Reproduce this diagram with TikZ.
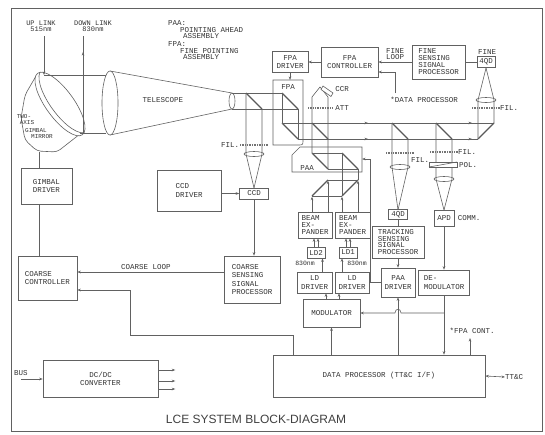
\documentclass[tikz,border=0pt]{standalone}
\usepackage{fontspec}
\setmonofont{Liberation Mono}
\setsansfont{Liberation Sans}
\usetikzlibrary{arrows.meta}
\begin{document}
\begin{tikzpicture}[x=1pt,y=-1pt,
    ink/.style={draw=black!62, line width=0.6pt},
    mir/.style={draw=black!65, line width=1.1pt},
    fil/.style={draw=black!55, line width=1.5pt, dash pattern=on 1pt off 0.7pt},
    box/.style={ink, rectangle, inner sep=0pt, text=black!80, align=center, font=\ttfamily\fontsize{7.5}{8.5}\selectfont},
    lbl/.style={inner sep=0pt, text=black!80, font=\ttfamily\fontsize{7.5}{8}\selectfont},
    tiny/.style={inner sep=0pt, text=black!80, font=\ttfamily\fontsize{6}{6}\selectfont},
    >={Stealth[length=3.5pt,width=2.6pt]}]
\useasboundingbox (0,0) rectangle (545,434);
\draw[ink, line width=0.8pt] (11,8) rectangle (542,431);

\node[lbl, align=center, font=\ttfamily\fontsize{7}{6}\selectfont] (uplink) at (41,26) {UP LINK\\515nm};
\node[lbl, align=center, font=\ttfamily\fontsize{7}{6}\selectfont] (downlink) at (93,26) {DOWN LINK\\830nm};
\node[lbl, anchor=west] (legpaa) at (168,23) {PAA:};
\node[lbl, anchor=west] (legpaa1) at (180,30) {POINTING AHEAD};
\node[lbl, anchor=west] (legpaa2) at (183,36) {ASSEMBLY};
\node[lbl, anchor=west] (legfpa) at (168,44) {FPA:};
\node[lbl, anchor=west] (legfpa1) at (180,51) {FINE POINTING};
\node[lbl, anchor=west] (legfpa2) at (183,57) {ASSEMBLY};

\draw[ink, fill=white, rounded corners=4pt] (36,76) -- (25,95) -- (21,118) -- (25,140) -- (37,151) -- (57,152) -- (80,134);
\draw[ink, fill=white, rotate around={-54:(60,104)}] (60,104) ellipse [x radius=38, y radius=14];
\begin{scope}
\clip[rotate around={-54:(60,104)}] (60,104) ellipse [x radius=38, y radius=14];
\draw[ink, rotate around={-54:(64,101)}] (64,101) ellipse [x radius=38, y radius=14];
\end{scope}
\node[tiny] (mir1) at (24,117) {TWO-};
\node[tiny] (mir2) at (27,122.5) {AXIS};
\node[tiny] (mir3) at (36,131) {GIMBAL};
\node[tiny] (mir4) at (42,136.5) {MIRROR};
\coordinate (mirtop) at (44,75);
\coordinate (mirbot) at (39,152);
\draw[ink,->] (44,36) -- (mirtop);
\draw[ink] (mirtop) -- (106,75);
\draw[ink] (80,133) -- (106,133);
\draw[ink] (83,133) -- (83,36);
\draw[ink,->] (83,62) -- (83,52);

\draw[ink] (110,71) -- (232,93);
\draw[ink] (110,135) -- (232,109);
\draw[ink, fill=white] (110,103) ellipse [x radius=8, y radius=32];
\draw[ink] (232,101) ellipse [x radius=3, y radius=8];
\node[lbl] (telescope) at (163,100) {TELESCOPE};
\draw[ink] (232,93) -- (282,93);
\draw[ink] (232,109) -- (298,109);

\draw[mir] (246,93) -- (262,109);
\draw[ink] (246,93) -- (246,154) -- (254,188);
\draw[ink] (262,109) -- (262,154) -- (254,188);
\draw[fil] (240,145) -- (268,145);
\node[lbl] (filccd) at (230,145) {FIL.};
\draw[ink] (254,154) ellipse [x radius=10, y radius=2.5];

\draw[ink] (273,80) -- (303,80) -- (303,140) .. controls (303,145) .. (298,145) -- (273,145) -- cycle;
\node[lbl] (fpalbl) at (288,87) {FPA};
\draw[mir] (282,93) -- (298,109);
\draw[mir] (282,123) -- (298,139);
\draw[ink] (282,93) -- (282,123);
\draw[ink] (298,109) -- (298,139);
\draw[ink] (282,123) -- (494,123);
\draw[ink] (298,139) -- (478,139);
\foreach \bx in {362,466} {
  \draw[ink,->] (\bx,123) -- ++(6,0);
  \draw[ink,->] (\bx,139) -- ++(6,0);
}

\draw[mir] (312,123) -- (328,139);
\draw[ink] (312,153) -- (312,97) -- (320,87) -- (328,97) -- (328,169);
\draw[ink, fill=white] (323,86) -- (333,93) -- (331,96.5) -- (321,89.5) -- cycle;
\node[lbl] (ccr) at (342,89) {CCR};
\draw[fil] (308,108) -- (332,108);
\node[lbl] (att) at (342,108) {ATT};

\draw[ink] (300,147) -- (362,147) -- (362,172) -- (292,172) -- (292,155) -- cycle;
\node[lbl] (paalbl) at (307,168) {PAA};
\draw[mir] (312,153) -- (328,169);
\draw[mir] (342,153) -- (358,169);
\draw[ink] (312,153) -- (342,153);
\draw[ink] (328,169) -- (358,169);
\draw[ink] (342,153) -- (342,196);
\draw[ink] (358,169) -- (358,180);
\draw[mir] (312,196) -- (328,180);
\draw[mir] (342,196) -- (358,180);
\draw[ink] (312,196) -- (342,196);
\draw[ink] (328,180) -- (358,180);

\draw[mir] (392,123) -- (408,139);
\draw[ink] (392,123) -- (392,167) -- (398,210);
\draw[ink] (408,139) -- (408,167) -- (398,210);
\draw[fil] (386,153) -- (414,153);
\node[lbl] (filtrk) at (420,160) {FIL.};
\draw[ink] (400,167) ellipse [x radius=10, y radius=2.5];

\draw[mir] (436,123) -- (452,139);
\draw[ink] (436,123) -- (436,179) -- (444,210);
\draw[ink] (452,139) -- (452,179) -- (444,210);
\draw[fil] (430,152) -- (458,152);
\node[lbl] (filapd) at (467,152) {FIL.};
\draw[ink, fill=white] (429,162) rectangle (457,167);
\draw[ink] (429,167) -- (457,162);
\node[lbl] (pol) at (468,165) {POL.};
\draw[ink] (444,179) ellipse [x radius=10, y radius=2.5];

\draw[mir] (478,139) -- (494,123);
\draw[ink] (478,139) -- (478,100) -- (486,68);
\draw[ink] (494,123) -- (494,100) -- (486,68);
\draw[fil] (472,108) -- (500,108);
\node[lbl] (filfine) at (509,108) {FIL.};
\draw[ink] (486,100) ellipse [x radius=10, y radius=2.5];

\node[box, minimum width=51, minimum height=36] (gimbaldrv) at (46.5,186) {GIMBAL\\DRIVER};
\node[box, align=left, minimum width=59, minimum height=44] (coarsectl) at (47.5,278) {COARSE\\CONTROLLER};
\node[box, align=left, minimum width=64, minimum height=41] (ccddrv) at (189,190.5) {CCD\\DRIVER};
\node[box, minimum width=29, minimum height=11] (ccd) at (254,193.5) {CCD};
\node[box, align=left, minimum width=56, minimum height=47] (coarsessp) at (252,279.5) {COARSE\\SENSING\\SIGNAL\\PROCESSOR};
\node[box, minimum width=115, minimum height=37] (dcdc) at (100.5,379) {DC/DC\\CONVERTER};
\node[box, minimum width=212, minimum height=42] (dp) at (379,376) {DATA PROCESSOR (TT\&C I/F)};
\node[box, minimum width=36, minimum height=21] (fpadrv) at (290,62) {FPA\\DRIVER};
\node[box, minimum width=57, minimum height=30] (fpactl) at (349.5,62) {FPA\\CONTROLLER};
\node[box, align=left, minimum width=53, minimum height=34, font=\ttfamily\fontsize{7.5}{7}\selectfont] (finessp) at (438.5,62) {FINE\\SENSING\\SIGNAL\\PROCESSOR};
\node[box, minimum width=18, minimum height=11] (fineqd) at (486,62) {4QD};
\node[lbl] (finelbl) at (487,52) {FINE};
\node[lbl, align=left, font=\ttfamily\fontsize{7.5}{6.5}\selectfont] (fineloop) at (395,54) {FINE\\LOOP};
\node[lbl] (dpnote) at (424,100) {*DATA PROCESSOR};

\node[box, align=left, minimum width=34, minimum height=26, font=\ttfamily\fontsize{7.5}{7}\selectfont] (beL) at (315,225) {BEAM\\EX-\\PANDER};
\node[box, align=left, minimum width=35, minimum height=26, font=\ttfamily\fontsize{7.5}{7}\selectfont] (beR) at (352.5,225) {BEAM\\EX-\\PANDER};
\node[box, minimum width=18, minimum height=11] (ldtwo) at (316,252.5) {LD2};
\node[box, minimum width=18, minimum height=11] (ldone) at (348,252.5) {LD1};
\node[box, minimum width=35, minimum height=21] (lddrvL) at (314.5,282.5) {LD\\DRIVER};
\node[box, minimum width=34, minimum height=21] (lddrvR) at (352,282.5) {LD\\DRIVER};
\node[box, minimum width=57, minimum height=28] (mod) at (331.5,313) {MODULATOR};
\node[lbl, font=\ttfamily\fontsize{6.5}{7}\selectfont] (nmtwo) at (305,263) {830nm};
\node[lbl, font=\ttfamily\fontsize{6.5}{7}\selectfont] (nmone) at (357,263) {830nm};
\node[box, minimum width=19, minimum height=10] (trkqd) at (398,214.5) {4QD};
\node[box, align=left, minimum width=52, minimum height=32, font=\ttfamily\fontsize{7.5}{6.5}\selectfont] (trkssp) at (398,242) {TRACKING\\SENSING\\SIGNAL\\PROCESSOR};
\node[box, minimum width=34, minimum height=29] (paadrv) at (398,282.5) {PAA\\DRIVER};
\node[box, minimum width=20, minimum height=16] (apd) at (444,218) {APD};
\node[lbl] (comm) at (469,218) {COMM.};
\node[box, align=left, minimum width=51, minimum height=25] (demod) at (444,282.5) {DE-\\MODULATOR};

\draw[ink] (mirbot) -- (mirbot |- gimbaldrv.north);
\draw[ink] (mirbot |- gimbaldrv.south) -- (mirbot |- coarsectl.north);
\draw[ink,->] (ccddrv.east |- ccd.west) -- (ccd.west);
\draw[ink,->] (ccd.south) -- (ccd.south |- coarsessp.north);
\draw[ink,->] ([yshift=7.5pt]coarsessp.west) -- ([yshift=7.5pt]coarsessp.west -| coarsectl.east);
\node[lbl] (coarseloop) at (146,267) {COARSE LOOP};
\coordinate (retx) at (293,335);
\draw[ink,->] (retx |- dp.north) -- (retx) -| (130,290) -- ([yshift=-12pt]coarsectl.east);
\coordinate (bus) at (21,379);
\node[lbl] (buslbl) at (21,373) {BUS};
\draw[ink,->] (bus) -- (dcdc.west);
\foreach \dy in {9,-2,-10}
  \draw[ink,->] ([yshift=\dy pt]dcdc.east) -- ++(17,0);

\draw[ink,->] (fpactl.west) -- (fpadrv.east);
\coordinate (fpatop) at (290,80);
\draw[ink,->] (fpadrv.south) -- (fpatop);
\draw[ink,->] (finessp.west) -- (fpactl.east);
\coordinate (dpnoteup) at (395,93);
\draw[ink,->] (dpnoteup) |- ([yshift=-10pt]fpactl.east);
\draw[ink] (finessp.east) -- (fineqd.west);

\draw[ink,->] ([xshift=-3pt]beL.north) -- ++(0,-15);
\draw[ink,->] ([xshift=13pt]beL.north) -- ++(0,-31);
\draw[ink,->] ([xshift=-10.5pt]beR.north) -- ++(0,-15);
\draw[ink,->] ([xshift=5.5pt]beR.north) -- ++(0,-31);
\foreach \dx in {-2,2} {
  \draw[ink,->] ([xshift=\dx pt]ldtwo.north) -- ([xshift=\dx pt]ldtwo.north |- beL.south);
  \draw[ink,->] ([xshift=\dx pt]ldone.north) -- ([xshift=\dx pt]ldone.north |- beR.south);
}
\draw[ink,->] ([xshift=8pt]lddrvL.north) -- ([xshift=8pt]lddrvL.north |- ldtwo.south);
\draw[ink,->] ([xshift=-10pt]lddrvR.north) -- ([xshift=-10pt]lddrvR.north |- ldone.south);
\draw[ink,->] ([xshift=-5.5pt]mod.north) -- ([xshift=-5.5pt]mod.north |- lddrvL.south);
\draw[ink,->] ([xshift=7.5pt]mod.north) -- ([xshift=7.5pt]mod.north |- lddrvR.south);
\draw[ink,->] (mod.south |- dp.north) -- (mod.south);

\draw[ink] (trkqd.south) -- (trkssp.north);
\draw[ink,->] (trkssp.south) -- (paadrv.north);
\coordinate (paain) at (362,159);
\draw[ink,->] (paadrv.west) -- ++(-10,0) |- (paain);
\draw[ink,->] (paadrv.south |- dp.north) -- (paadrv.south);
\draw[ink,->] (apd.south) -- (demod.north);
\draw[ink,->] (demod.south) -- (demod.south |- dp.north);
\coordinate (modbr) at (demod.south |- mod.east);
\draw[ink,->] (modbr) -- (401,313) .. controls (401,308) and (395,308) .. (395,313) -- (mod.east);
\coordinate (fpacont) at (470,338);
\draw[ink,->] (fpacont |- dp.north) -- (fpacont);
\node[lbl] (fpacontlbl) at (472,331) {*FPA CONT.};
\coordinate (ttc) at (505,377);
\draw[ink,<->] (dp.east) -- (ttc);
\node[lbl, anchor=west] (ttclbl) at (ttc) {TT\&C};

\node[inner sep=0pt, text=black!75, font=\sffamily\fontsize{12}{13}\selectfont] (title) at (256,419) {LCE SYSTEM BLOCK-DIAGRAM};
\end{tikzpicture}
\end{document}
